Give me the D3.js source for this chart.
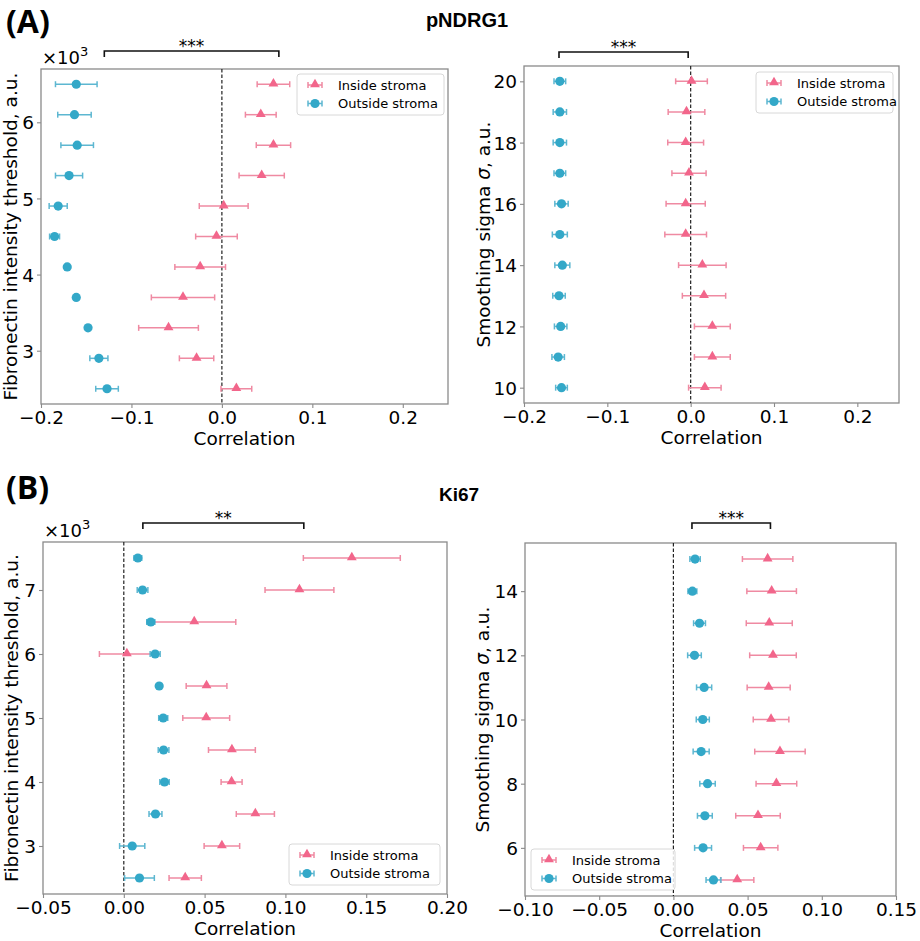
<!DOCTYPE html>
<html>
<head>
<meta charset="utf-8">
<script src="https://cdn.jsdelivr.net/npm/d3@7"></script>
<style>
  body { margin: 0; background: #fff; }
  svg { display: block; }
  text { font-family: "DejaVu Sans", sans-serif; fill: #000; }
</style>
</head>
<body>
<svg id="fig" width="920" height="941"></svg>
<script>
// ---- data ----
// (A) pNDRG1, fibronectin threshold
const thresholdA = [2500, 2900, 3300, 3700, 4100, 4500, 4900, 5300, 5700, 6100, 6500];
const insideThrA = [0.016, -0.028, -0.059, -0.043, -0.024, -0.006, 0.002, 0.044, 0.057, 0.043, 0.057];
const insideThrAErr = [0.017, 0.019, 0.033, 0.035, 0.028, 0.023, 0.027, 0.025, 0.019, 0.017, 0.018];
const outsideThrA = [-0.127, -0.136, -0.148, -0.161, -0.171, -0.185, -0.181, -0.169, -0.160, -0.163, -0.161];
const outsideThrAErr = [0.0125, 0.010, 0.002, 0.002, 0.002, 0.0055, 0.010, 0.015, 0.018, 0.0185, 0.023];

// (A) pNDRG1, smoothing sigma
const sigmaA = [10, 11, 12, 13, 14, 15, 16, 17, 18, 19, 20];
const insideSigA = [0.017, 0.026, 0.026, 0.016, 0.014, -0.006, -0.006, -0.002, -0.006, -0.005, 0.001];
const insideSigAErr = [0.0195, 0.0215, 0.0215, 0.026, 0.0285, 0.025, 0.0235, 0.0205, 0.0215, 0.022, 0.019];
const outsideSigA = [-0.155, -0.159, -0.156, -0.158, -0.154, -0.157, -0.155, -0.157, -0.157, -0.157, -0.157];
const outsideSigAErr = [0.007, 0.0075, 0.0075, 0.0075, 0.009, 0.009, 0.008, 0.007, 0.008, 0.008, 0.007];

// (B) Ki67, fibronectin threshold
const thresholdB = [2500, 3000, 3500, 4000, 4500, 5000, 5500, 6000, 6500, 7000, 7500];
const insideThrB = [0.038, 0.0607, 0.0814, 0.0667, 0.0669, 0.051, 0.0512, 0.0019, 0.0436, 0.1087, 0.1411];
const insideThrBErr = [0.010, 0.011, 0.0118, 0.0065, 0.0145, 0.0145, 0.0126, 0.017, 0.0257, 0.0213, 0.030];
const outsideThrB = [0.0097, 0.0052, 0.0196, 0.0252, 0.0246, 0.0244, 0.0219, 0.0194, 0.0167, 0.0116, 0.0087];
const outsideThrBErr = [0.0092, 0.0078, 0.004, 0.0029, 0.0033, 0.0028, 0.001, 0.0031, 0.0025, 0.0033, 0.0024];

// (B) Ki67, smoothing sigma
const sigmaB = [5, 6, 7, 8, 9, 10, 11, 12, 13, 14, 15];
const insideSigB = [0.043, 0.0588, 0.057, 0.0694, 0.0718, 0.0658, 0.0642, 0.0671, 0.0646, 0.0662, 0.0635];
const insideSigBErr = [0.0112, 0.0116, 0.015, 0.0137, 0.017, 0.012, 0.0145, 0.0157, 0.0155, 0.0167, 0.017];
const outsideSigB = [0.027, 0.020, 0.0212, 0.023, 0.0187, 0.0198, 0.0207, 0.0142, 0.0176, 0.0128, 0.0146];
const outsideSigBErr = [0.005, 0.0057, 0.005, 0.0052, 0.0054, 0.0044, 0.0051, 0.0046, 0.004, 0.003, 0.0035];

// significance brackets [x1, x2] in correlation units
const bracketThrA = [-0.130, 0.063];
const bracketSigA = [-0.158, -0.003];
const bracketThrB = [0.0118, 0.1114];
const bracketSigB = [0.0125, 0.0654];

const seriesNames = ['Inside stroma', 'Outside stroma'];

// ---- styles ----
const insideColor = '#f2668b';
const insideErrColor = '#ef8aa2';
const outsideColor = '#33a8c8';
const outsideErrColor = '#5db7d1';
const frameColor = '#8a8a8a';
const minus = s => s.replace('-', '\u2212');

const svg = d3.select('#fig');

function drawPanel(cfg) {
    const g = svg.append('g');
    const x = d3.scaleLinear().domain(cfg.xDomain).range([cfg.left, cfg.left + cfg.width]);
    const y = d3.scaleLinear().domain(cfg.yDomain).range([cfg.top + cfg.height, cfg.top]);

    // axes
    const xAxis = d3.axisBottom(x).tickValues(cfg.xTicks).tickSize(4).tickPadding(3)
        .tickFormat(d => minus(d3.format(cfg.xFmt)(d)));
    const yAxis = d3.axisLeft(y).tickValues(cfg.yTicks).tickSize(4).tickPadding(3)
        .tickFormat(cfg.yFmt);

    const gx = g.append('g').attr('transform', `translate(0,${cfg.top + cfg.height})`).call(xAxis);
    const gy = g.append('g').attr('transform', `translate(${cfg.left},0)`).call(yAxis);
    [gx, gy].forEach(a => {
        a.select('.domain').remove();
        a.selectAll('line').attr('stroke', frameColor).attr('stroke-width', 1.1);
        a.selectAll('text').style('font-size', '18.5px').attr('fill', '#000');
    });
    gy.selectAll('text').attr('dy', '0.36em');

    // frame
    g.append('rect')
        .attr('x', cfg.left).attr('y', cfg.top)
        .attr('width', cfg.width).attr('height', cfg.height)
        .attr('fill', 'none').attr('stroke', frameColor).attr('stroke-width', 1.3);

    // zero line
    g.append('line')
        .attr('x1', x(0)).attr('x2', x(0))
        .attr('y1', cfg.top).attr('y2', cfg.top + cfg.height)
        .attr('stroke', '#222').attr('stroke-width', 1.2)
        .attr('stroke-dasharray', '3.5,2');

    // axis labels
    g.append('text')
        .attr('x', cfg.left + cfg.width / 2).attr('y', cfg.top + cfg.height + 41)
        .attr('text-anchor', 'middle').style('font-size', '18.5px')
        .text('Correlation');

    const yl = g.append('text')
        .attr('transform', `translate(${cfg.yLabelX},${cfg.top + cfg.height / 2}) rotate(-90)`)
        .attr('text-anchor', 'middle').style('font-size', '18.5px');
    cfg.yLabel.forEach(part => {
        yl.append('tspan').style('font-style', part.italic ? 'italic' : 'normal').text(part.t);
    });

    if (cfg.multiplier) {
        const m = g.append('text')
            .attr('x', cfg.left + 1).attr('y', cfg.top - 5)
            .style('font-size', '18px');
        m.append('tspan').text('\u00d710');
        m.append('tspan').attr('dy', -8).style('font-size', '13px').text('3');
    }

    // error bars + markers
    const series = [
        { vals: cfg.inside, errs: cfg.insideErr, color: insideColor, errColor: insideErrColor, shape: 'tri' },
        { vals: cfg.outside, errs: cfg.outsideErr, color: outsideColor, errColor: outsideErrColor, shape: 'circle' }
    ];
    const tri = d3.symbol().type(d3.symbolTriangle).size(42);

    series.forEach(s => {
        const pts = cfg.cats.map((c, i) => ({ c, v: s.vals[i], e: s.errs[i] }));
        const eg = g.append('g').attr('stroke', s.errColor).attr('stroke-width', 1.5);
        eg.selectAll('.bar').data(pts).join('line')
            .attr('x1', d => x(d.v - d.e)).attr('x2', d => x(d.v + d.e))
            .attr('y1', d => y(d.c)).attr('y2', d => y(d.c));
        eg.selectAll('.capl').data(pts).join('line')
            .attr('x1', d => x(d.v - d.e)).attr('x2', d => x(d.v - d.e))
            .attr('y1', d => y(d.c) - 3).attr('y2', d => y(d.c) + 3);
        eg.selectAll('.capr').data(pts).join('line')
            .attr('x1', d => x(d.v + d.e)).attr('x2', d => x(d.v + d.e))
            .attr('y1', d => y(d.c) - 3).attr('y2', d => y(d.c) + 3);

        if (s.shape === 'circle') {
            g.append('g').selectAll('circle').data(pts).join('circle')
                .attr('cx', d => x(d.v)).attr('cy', d => y(d.c))
                .attr('r', 4.6).attr('fill', s.color);
        } else {
            g.append('g').selectAll('path').data(pts).join('path')
                .attr('d', tri)
                .attr('transform', d => `translate(${x(d.v)},${y(d.c) - 0.5})`)
                .attr('fill', s.color);
        }
    });

    // significance bracket
    const by = cfg.bracketY;
    const bx1 = x(cfg.bracket[0]), bx2 = x(cfg.bracket[1]);
    g.append('path')
        .attr('d', `M${bx1},${by + 6}V${by}H${bx2}V${by + 6}`)
        .attr('fill', 'none').attr('stroke', '#111').attr('stroke-width', 1.6);
    g.append('text')
        .attr('x', (bx1 + bx2) / 2).attr('y', by + 1)
        .attr('text-anchor', 'middle').style('font-size', '17px')
        .text(cfg.stars);

    // legend
    const L = cfg.legend;
    const lg = g.append('g').attr('transform', `translate(${L.x},${L.y})`);
    lg.append('rect')
        .attr('width', L.w).attr('height', 41).attr('rx', 3)
        .attr('fill', 'rgba(255,255,255,0.85)').attr('stroke', '#d8d8d8');
    series.forEach((s, i) => {
        const ry = 11 + i * 18.5;
        const row = lg.append('g').attr('transform', `translate(18,${ry})`);
        row.append('path').attr('d', 'M-7,0H7M-7,-3V3M7,-3V3')
            .attr('stroke', s.errColor).attr('stroke-width', 1.5).attr('fill', 'none');
        if (s.shape === 'circle') {
            row.append('circle').attr('r', 4.6).attr('fill', s.color);
        } else {
            row.append('path').attr('d', tri).attr('transform', 'translate(0,-0.5)').attr('fill', s.color);
        }
        lg.append('text')
            .attr('x', 41).attr('y', ry).attr('dy', '0.36em')
            .style('font-size', '13px')
            .text(seriesNames[i]);
    });
}

const threshLabel = [{ t: 'Fibronectin intensity threshold, a.u.' }];
const sigmaLabel = [{ t: 'Smoothing sigma ' }, { t: '\u03c3', italic: true }, { t: ', a.u.' }];

drawPanel({
    left: 41, top: 69, width: 407, height: 335,
    xDomain: [-0.2, 0.25], xTicks: [-0.2, -0.1, 0, 0.1, 0.2], xFmt: '.1f',
    yDomain: [2300, 6700], yTicks: [3000, 4000, 5000, 6000], yFmt: d => d / 1000,
    yLabel: threshLabel, yLabelX: 17, multiplier: true,
    cats: thresholdA, inside: insideThrA, insideErr: insideThrAErr,
    outside: outsideThrA, outsideErr: outsideThrAErr,
    bracket: bracketThrA, stars: '***', bracketY: 51,
    legend: { x: 297, y: 74, w: 147 }
});

drawPanel({
    left: 524, top: 66, width: 375, height: 337,
    xDomain: [-0.2, 0.25], xTicks: [-0.2, -0.1, 0, 0.1, 0.2], xFmt: '.1f',
    yDomain: [9.5, 20.5], yTicks: [10, 12, 14, 16, 18, 20], yFmt: d => d,
    yLabel: sigmaLabel, yLabelX: 490,
    cats: sigmaA, inside: insideSigA, insideErr: insideSigAErr,
    outside: outsideSigA, outsideErr: outsideSigAErr,
    bracket: bracketSigA, stars: '***', bracketY: 52,
    legend: { x: 756, y: 72, w: 137 }
});

drawPanel({
    left: 43, top: 542, width: 404, height: 352,
    xDomain: [-0.05, 0.2], xTicks: [-0.05, 0, 0.05, 0.1, 0.15, 0.2], xFmt: '.2f',
    yDomain: [2250, 7750], yTicks: [3000, 4000, 5000, 6000, 7000], yFmt: d => d / 1000,
    yLabel: threshLabel, yLabelX: 18, multiplier: true,
    cats: thresholdB, inside: insideThrB, insideErr: insideThrBErr,
    outside: outsideThrB, outsideErr: outsideThrBErr,
    bracket: bracketThrB, stars: '**', bracketY: 523,
    legend: { x: 289, y: 844, w: 151 }
});

drawPanel({
    left: 525, top: 543, width: 371, height: 353,
    xDomain: [-0.1, 0.15], xTicks: [-0.1, -0.05, 0, 0.05, 0.1, 0.15], xFmt: '.2f',
    yDomain: [4.5, 15.5], yTicks: [6, 8, 10, 12, 14], yFmt: d => d,
    yLabel: sigmaLabel, yLabelX: 489,
    cats: sigmaB, inside: insideSigB, insideErr: insideSigBErr,
    outside: outsideSigB, outsideErr: outsideSigBErr,
    bracket: bracketSigB, stars: '***', bracketY: 523,
    legend: { x: 531, y: 849, w: 144 }
});

// panel letters and titles
svg.append('text').attr('x', 6).attr('y', 33)
    .style('font-family', '"Open Sans", sans-serif').style('font-weight', 700).style('font-size', '32px')
    .text('(A)');
svg.append('text').attr('x', 6).attr('y', 499)
    .style('font-family', '"Open Sans", sans-serif').style('font-weight', 700).style('font-size', '32px')
    .text('(B)');
svg.append('text').attr('x', 467).attr('y', 27).attr('text-anchor', 'middle')
    .style('font-family', '"Liberation Sans", Arial, sans-serif').style('font-weight', 700).style('font-size', '20px')
    .text('pNDRG1');
svg.append('text').attr('x', 459).attr('y', 501).attr('text-anchor', 'middle')
    .style('font-family', '"Liberation Sans", Arial, sans-serif').style('font-weight', 700).style('font-size', '19px')
    .text('Ki67');
</script>
</body>
</html>
